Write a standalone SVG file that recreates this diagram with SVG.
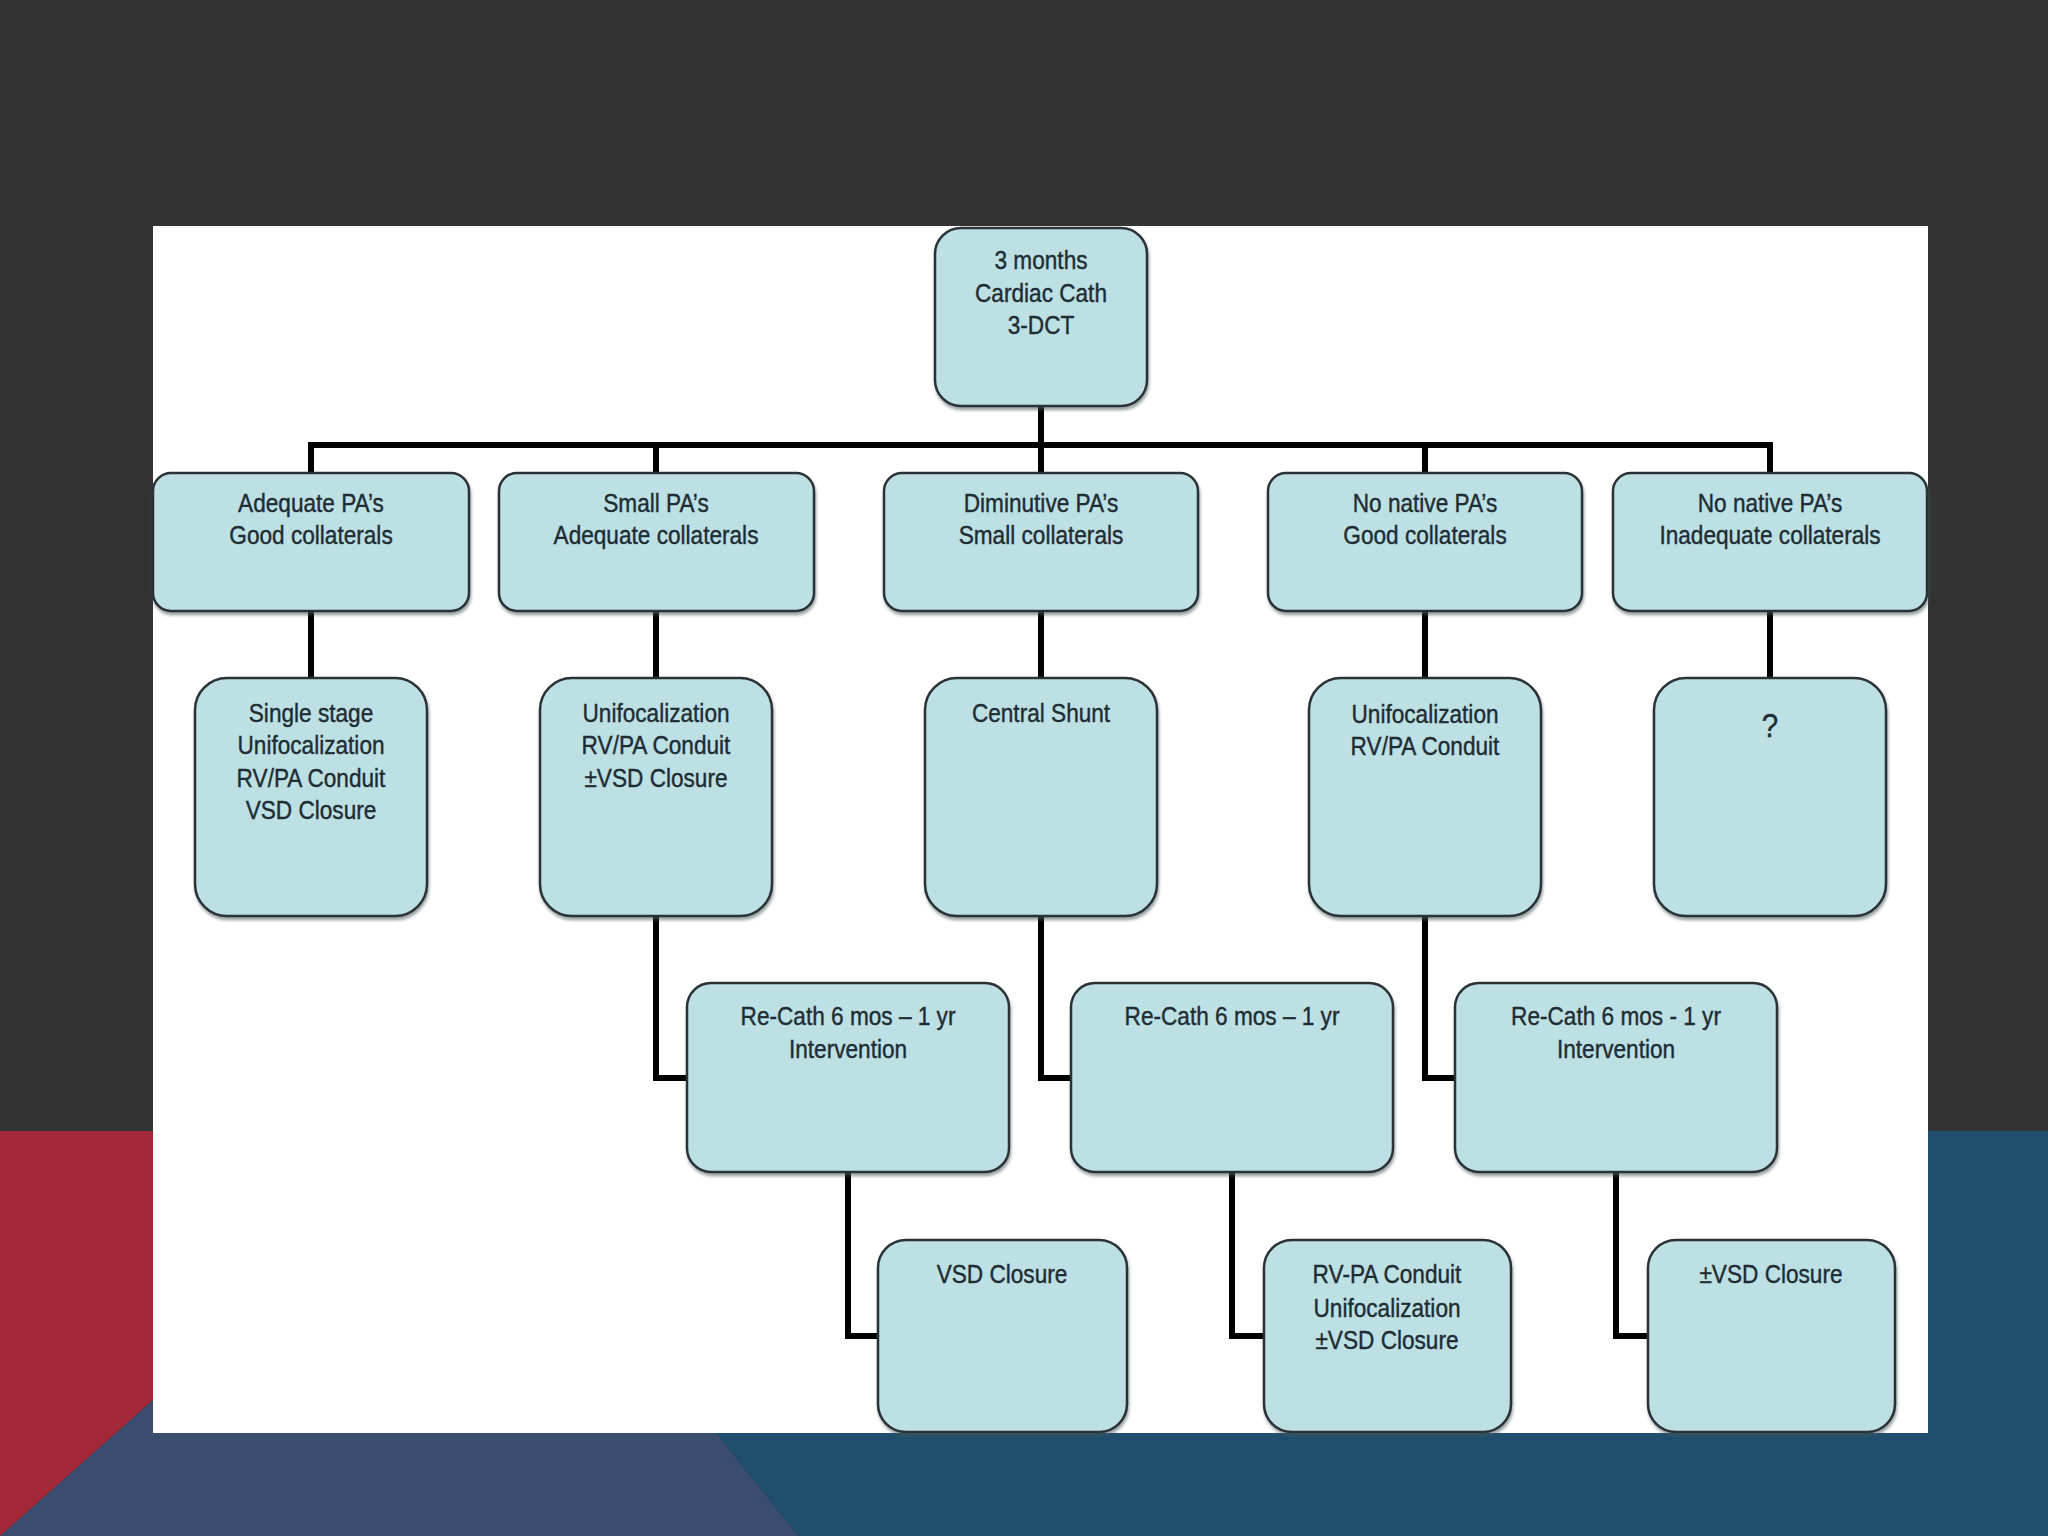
<svg xmlns="http://www.w3.org/2000/svg" width="2048" height="1536" viewBox="0 0 2048 1536">
<defs>
<filter id="sh" x="-10%" y="-10%" width="120%" height="125%">
<feDropShadow dx="1" dy="3" stdDeviation="1.5" flood-color="#44555a" flood-opacity="0.55"/>
</filter>
<style>
.bg{fill:#333333}
.box{fill:#bde0e5;stroke:#2c3336;stroke-width:2.5;filter:url(#sh)}
.t{font-family:"Liberation Sans",Arial,sans-serif;font-size:26px;fill:#1e2c33;stroke:#1e2c33;stroke-width:0.4;text-anchor:middle}
.q{font-size:34px}
.c{fill:none;stroke:#000;stroke-width:6;stroke-linejoin:miter;stroke-linecap:square}
</style>
</defs>
<rect class="bg" x="0" y="0" width="2048" height="1536"/>
<polygon points="476,1131 2048,1131 2048,1536 798,1536" fill="#1f4f6d"/>
<polygon points="455,1131 476,1131 798,1536 0,1536" fill="#3a4d6f"/>
<polygon points="0,1131 455,1131 0,1536" fill="#a32838"/>
<rect x="153" y="226" width="1775" height="1207" fill="#ffffff"/>
<g id="connectors">
<path class="c" d="M1041,406 V445"/>
<path class="c" d="M311,473 V445 H1770 V473"/>
<path class="c" d="M656,445 V473 M1041,445 V473 M1425,445 V473"/>
<path class="c" d="M311,611 V678 M656,611 V678 M1041,611 V678 M1425,611 V678 M1770,611 V678"/>
<path class="c" d="M656,916 V1078 H687"/>
<path class="c" d="M1041,916 V1078 H1071"/>
<path class="c" d="M1425,916 V1078 H1455"/>
<path class="c" d="M848,1172 V1336 H878"/>
<path class="c" d="M1232,1172 V1336 H1264"/>
<path class="c" d="M1616,1172 V1336 H1648"/>
</g>
<g id="root">
<rect class="box" x="935" y="228" width="212" height="178" rx="26"/>
<g transform="translate(1041,0) scale(0.87,1)">
<text class="t" x="0" y="269">3 months</text>
<text class="t" x="0" y="302">Cardiac Cath</text>
<text class="t" x="0" y="334">3-DCT</text>
</g>
</g>
<g id="l1a">
<rect class="box" x="153" y="473" width="316" height="138" rx="18"/>
<g transform="translate(311,0) scale(0.87,1)">
<text class="t" x="0" y="512">Adequate PA’s</text>
<text class="t" x="0" y="544">Good collaterals</text>
</g>
</g>
<g id="l1b">
<rect class="box" x="499" y="473" width="315" height="138" rx="18"/>
<g transform="translate(656,0) scale(0.87,1)">
<text class="t" x="0" y="512">Small PA’s</text>
<text class="t" x="0" y="544">Adequate collaterals</text>
</g>
</g>
<g id="l1c">
<rect class="box" x="884" y="473" width="314" height="138" rx="18"/>
<g transform="translate(1041,0) scale(0.87,1)">
<text class="t" x="0" y="512">Diminutive PA’s</text>
<text class="t" x="0" y="544">Small collaterals</text>
</g>
</g>
<g id="l1d">
<rect class="box" x="1268" y="473" width="314" height="138" rx="18"/>
<g transform="translate(1425,0) scale(0.87,1)">
<text class="t" x="0" y="512">No native PA’s</text>
<text class="t" x="0" y="544">Good collaterals</text>
</g>
</g>
<g id="l1e">
<rect class="box" x="1613" y="473" width="314" height="138" rx="18"/>
<g transform="translate(1770,0) scale(0.87,1)">
<text class="t" x="0" y="512">No native PA’s</text>
<text class="t" x="0" y="544">Inadequate collaterals</text>
</g>
</g>
<g id="l2a">
<rect class="box" x="195" y="678" width="232" height="238" rx="32"/>
<g transform="translate(311,0) scale(0.87,1)">
<text class="t" x="0" y="722">Single stage</text>
<text class="t" x="0" y="754">Unifocalization</text>
<text class="t" x="0" y="787">RV/PA Conduit</text>
<text class="t" x="0" y="819">VSD Closure</text>
</g>
</g>
<g id="l2b">
<rect class="box" x="540" y="678" width="232" height="238" rx="32"/>
<g transform="translate(656,0) scale(0.87,1)">
<text class="t" x="0" y="722">Unifocalization</text>
<text class="t" x="0" y="754">RV/PA Conduit</text>
<text class="t" x="0" y="787">±VSD Closure</text>
</g>
</g>
<g id="l2c">
<rect class="box" x="925" y="678" width="232" height="238" rx="32"/>
<g transform="translate(1041,0) scale(0.87,1)">
<text class="t" x="0" y="722">Central Shunt</text>
</g>
</g>
<g id="l2d">
<rect class="box" x="1309" y="678" width="232" height="238" rx="32"/>
<g transform="translate(1425,0) scale(0.87,1)">
<text class="t" x="0" y="723">Unifocalization</text>
<text class="t" x="0" y="755">RV/PA Conduit</text>
</g>
</g>
<g id="l2e">
<rect class="box" x="1654" y="678" width="232" height="238" rx="32"/>
<g transform="translate(1770,0) scale(0.87,1)">
<text class="t q" x="0" y="737">?</text>
</g>
</g>
<g id="l3b">
<rect class="box" x="687" y="983" width="322" height="189" rx="24"/>
<g transform="translate(848,0) scale(0.87,1)">
<text class="t" x="0" y="1025">Re-Cath 6 mos – 1 yr</text>
<text class="t" x="0" y="1058">Intervention</text>
</g>
</g>
<g id="l3c">
<rect class="box" x="1071" y="983" width="322" height="189" rx="24"/>
<g transform="translate(1232,0) scale(0.87,1)">
<text class="t" x="0" y="1025">Re-Cath 6 mos – 1 yr</text>
</g>
</g>
<g id="l3d">
<rect class="box" x="1455" y="983" width="322" height="189" rx="24"/>
<g transform="translate(1616,0) scale(0.87,1)">
<text class="t" x="0" y="1025">Re-Cath 6 mos - 1 yr</text>
<text class="t" x="0" y="1058">Intervention</text>
</g>
</g>
<g id="l4b">
<rect class="box" x="878" y="1240" width="249" height="192" rx="28"/>
<g transform="translate(1002,0) scale(0.87,1)">
<text class="t" x="0" y="1283">VSD Closure</text>
</g>
</g>
<g id="l4c">
<rect class="box" x="1264" y="1240" width="247" height="192" rx="28"/>
<g transform="translate(1387,0) scale(0.87,1)">
<text class="t" x="0" y="1283">RV-PA Conduit</text>
<text class="t" x="0" y="1317">Unifocalization</text>
<text class="t" x="0" y="1349">±VSD Closure</text>
</g>
</g>
<g id="l4d">
<rect class="box" x="1648" y="1240" width="247" height="192" rx="28"/>
<g transform="translate(1771,0) scale(0.87,1)">
<text class="t" x="0" y="1283">±VSD Closure</text>
</g>
</g>
</svg>
